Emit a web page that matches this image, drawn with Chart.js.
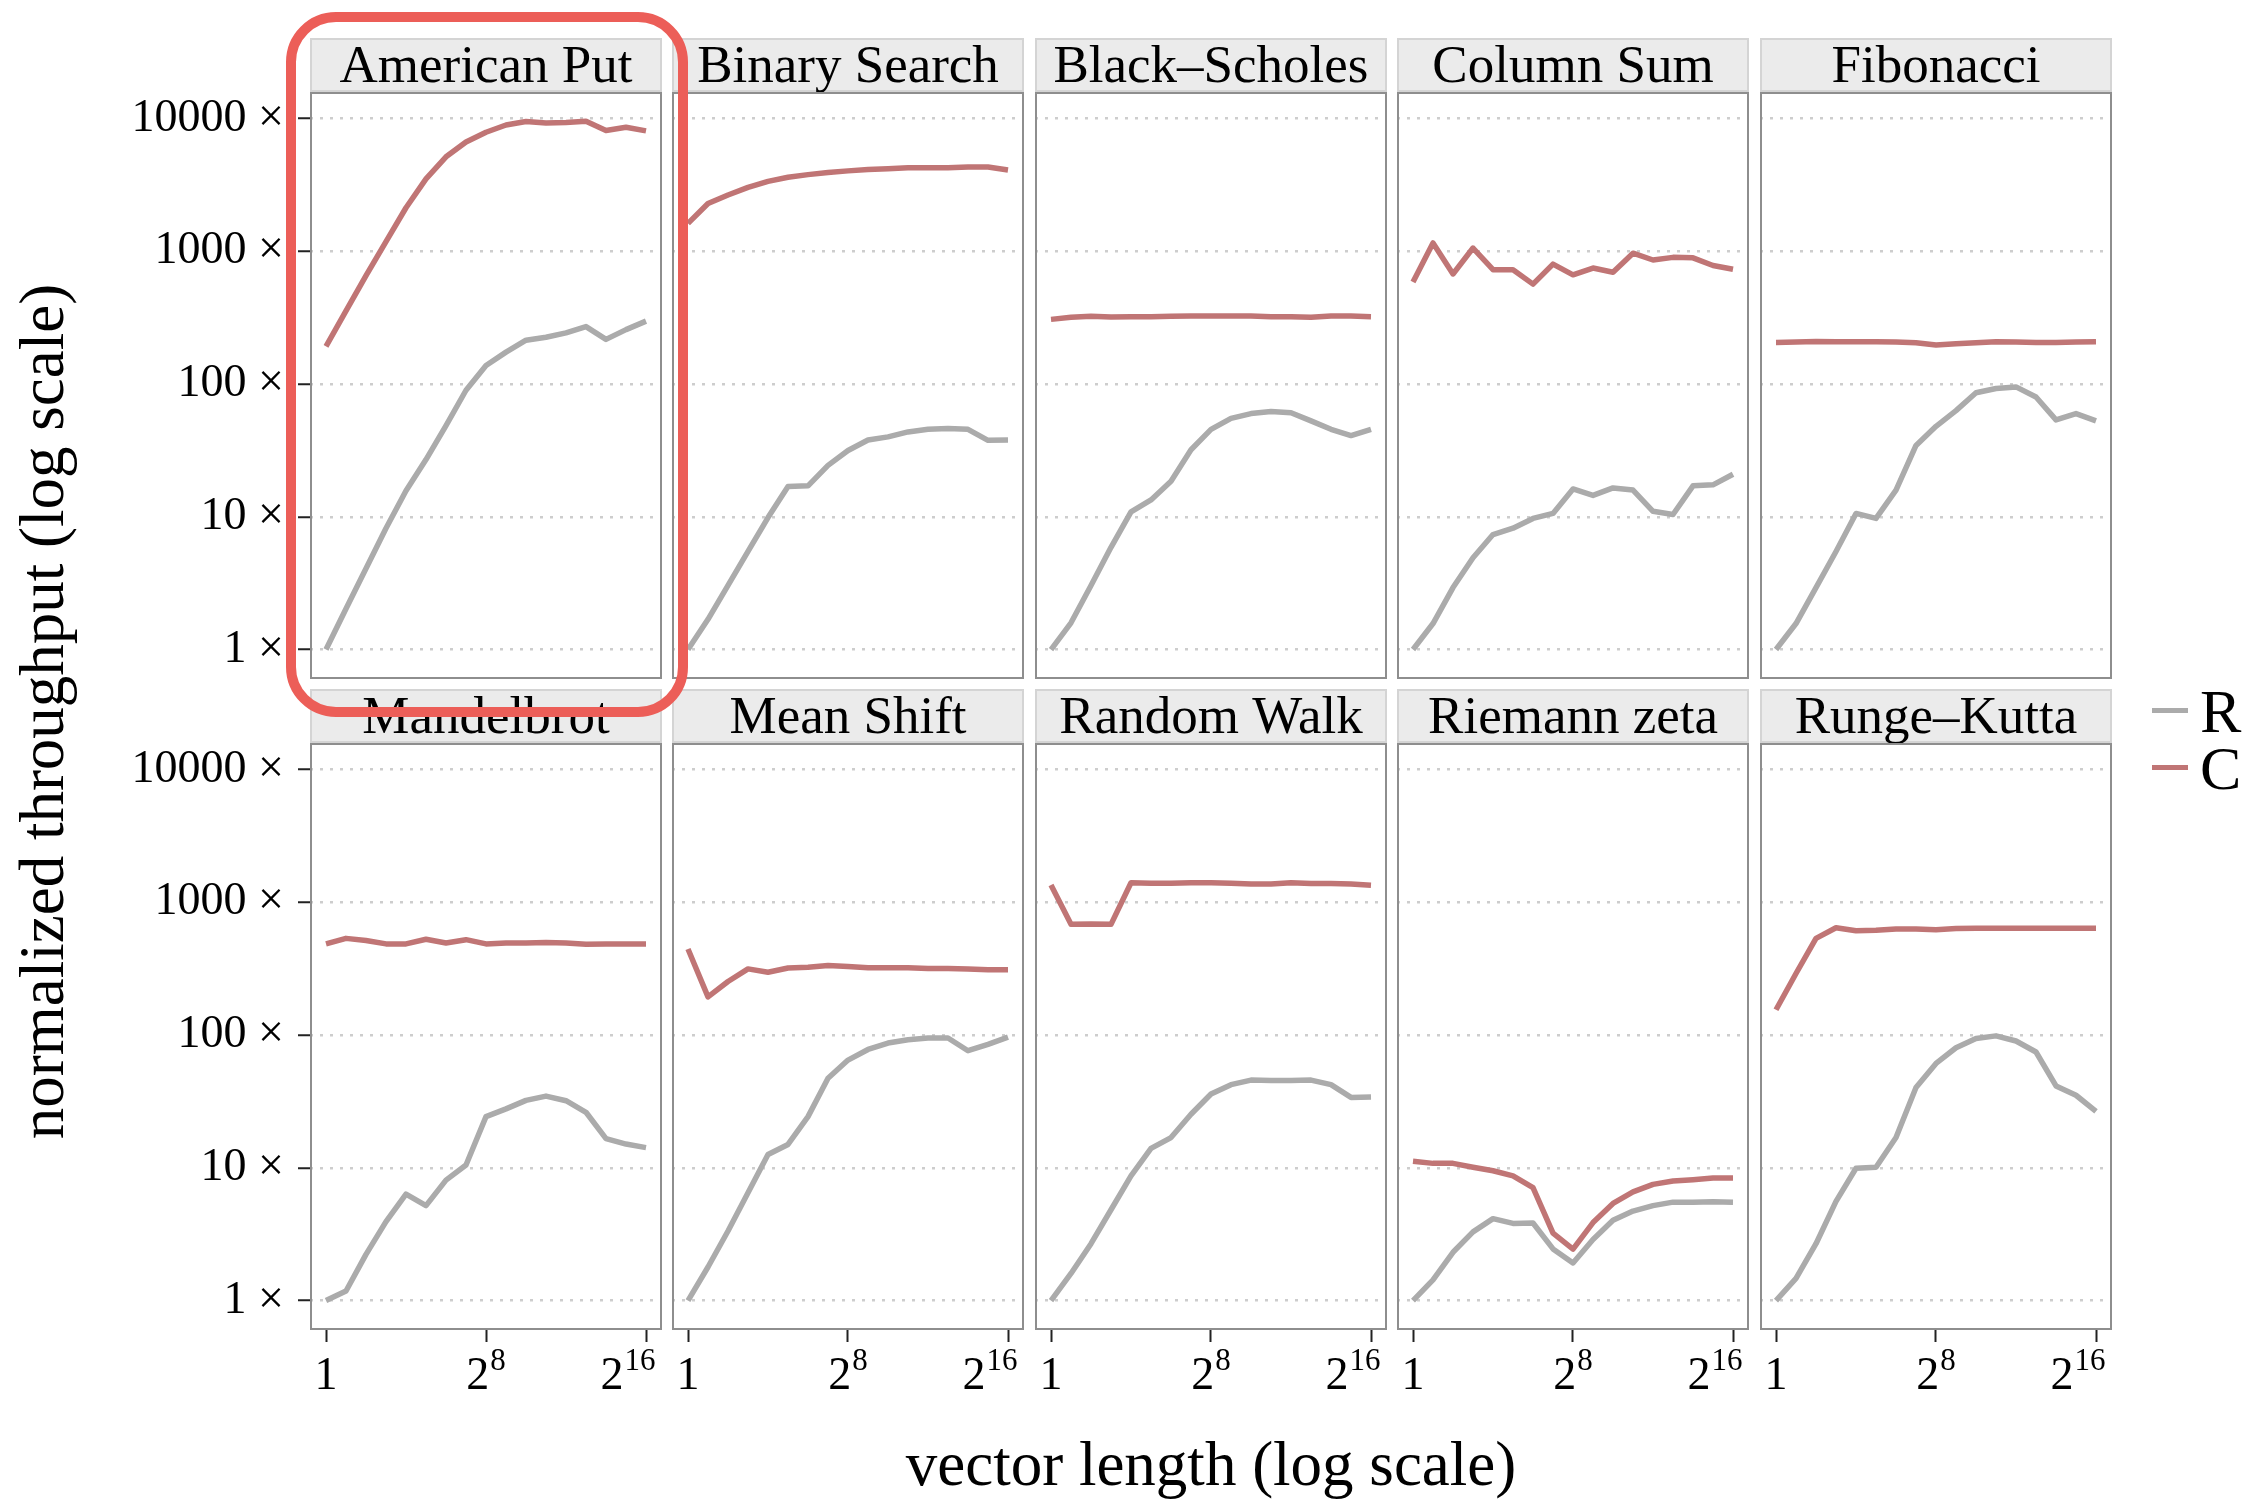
<!DOCTYPE html>
<html>
<head>
<meta charset="utf-8">
<script src="https://cdn.jsdelivr.net/npm/chart.js@4.4.1/dist/chart.umd.min.js"></script>
<style>
  body { margin: 0; background: #fff; }
  #fig { position: relative; width: 2247px; height: 1501px; overflow: hidden; background: #fff;
         font-family: "Liberation Serif", "Times New Roman", serif; color: #000; }
  #fig canvas { position: absolute; }
  .title { position: absolute; white-space: nowrap; text-align: center; font-size: 63px; line-height: 63px; }
  #ytitle { left: -458px; top: 680px; width: 1000px; height: 63px; transform: rotate(-90deg); }
  #xtitle { left: 310px; top: 1433px; width: 1802px; }
  .key-line { position: absolute; left: 2152px; width: 36px; height: 5px; }
  .key-text { position: absolute; left: 2200px; font-size: 62px; line-height: 62px; }
  #highlight { position: absolute; left: 286px; top: 12px; width: 402px; height: 705px; box-sizing: border-box;
               border: 10px solid #EC5E58; border-radius: 50px; z-index: 5; pointer-events: none; }
</style>
</head>
<body>
<div id="fig">
  <div id="ytitle" class="title">normalized throughput (log scale)</div>
  <div id="xtitle" class="title">vector length (log scale)</div>
  <div class="key-line" style="top:708px;background:#ABABAB"></div>
  <div class="key-text" style="top:680px">R</div>
  <div class="key-line" style="top:765px;background:#C07575"></div>
  <div class="key-text" style="top:737px">C</div>
  <div id="highlight"></div>
</div>
<script>
// vector length = 2^exponent
const exponents = [0, 1, 2, 3, 4, 5, 6, 7, 8, 9, 10, 11, 12, 13, 14, 15, 16];

const benchmarks = ['American Put', 'Binary Search', 'Black\u2013Scholes', 'Column Sum', 'Fibonacci',
                    'Mandelbrot', 'Mean Shift', 'Random Walk', 'Riemann zeta', 'Runge\u2013Kutta'];

// normalized throughput, R (gray) and C (red)
const americanPutR  = [1, 2.03, 4.08, 8.2, 15.7, 27, 48.7, 89.8, 138, 174, 214, 225, 243, 271, 217, 257, 298];
const americanPutC  = [192, 356, 656, 1181, 2128, 3510, 5150, 6660, 7890, 8940, 9490, 9270, 9350, 9550, 8130, 8610, 8070];
const binarySearchR = [1, 1.69, 3.04, 5.48, 9.87, 16.9, 17.1, 24.4, 31.6, 37.9, 40.0, 43.6, 45.6, 46.3, 45.6, 37.7, 37.9];
const binarySearchC = [1622, 2290, 2655, 3030, 3360, 3615, 3780, 3920, 4035, 4130, 4190, 4255, 4255, 4255, 4318, 4318, 4100];
const blackScholesR = [1, 1.59, 3.04, 5.89, 10.9, 13.4, 18.5, 32.0, 45.6, 55.2, 59.9, 62.1, 60.8, 52.8, 45.6, 40.9, 45.6];
const blackScholesC = [307, 318, 324, 320, 321, 322, 324, 326, 326, 326, 325, 322, 322, 318, 325, 325, 322];
const columnSumR    = [1, 1.57, 2.93, 4.91, 7.35, 8.21, 9.72, 10.6, 16.2, 14.5, 16.5, 15.9, 11.0, 10.4, 17.1, 17.4, 20.9];
const columnSumC    = [587, 1155, 675, 1058, 727, 727, 566, 800, 665, 748, 695, 968, 860, 900, 893, 782, 732];
const fibonacciR    = [1, 1.57, 2.93, 5.48, 10.6, 9.72, 15.9, 34.5, 48.0, 63.1, 85.9, 92.5, 95.2, 79.8, 53.7, 59.9, 52.8];
const fibonacciC    = [206, 207, 209, 208, 208, 208, 207, 205, 197, 201, 205, 208, 207, 206, 206, 207, 208];
const mandelbrotR   = [1, 1.18, 2.23, 3.93, 6.34, 5.19, 8.08, 10.5, 24.3, 27.8, 32.2, 34.7, 32.0, 26.2, 16.6, 15.1, 14.2];
const mandelbrotC   = [486, 535, 516, 486, 486, 527, 494, 523, 486, 494, 494, 497, 494, 483, 486, 486, 486];
const meanShiftR    = [1, 1.79, 3.34, 6.48, 12.6, 15.0, 24.3, 47.2, 64.8, 77.9, 87.0, 92.2, 95.0, 95.0, 76.2, 85.1, 96.4];
const meanShiftC    = [445, 194, 253, 315, 297, 320, 324, 334, 329, 322, 322, 322, 317, 317, 315, 310, 310];
const randomWalkR   = [1, 1.60, 2.68, 4.83, 8.70, 14.0, 16.9, 25.3, 36.0, 42.3, 45.8, 45.5, 45.5, 45.8, 42.3, 33.9, 34.2];
const randomWalkC   = [1352, 682, 686, 682, 1403, 1393, 1393, 1403, 1403, 1393, 1372, 1372, 1403, 1383, 1383, 1372, 1343];
const riemannZetaR  = [1, 1.43, 2.31, 3.29, 4.14, 3.81, 3.84, 2.45, 1.92, 2.88, 4.02, 4.72, 5.19, 5.51, 5.51, 5.55, 5.51];
const riemannZetaC  = [11.2, 10.8, 10.8, 10.1, 9.5, 8.7, 7.08, 3.22, 2.44, 3.87, 5.39, 6.58, 7.50, 7.96, 8.14, 8.38, 8.38];
const rungeKuttaR   = [1, 1.47, 2.68, 5.59, 9.93, 10.1, 16.9, 40.2, 61.1, 80.2, 94.3, 98.6, 90.2, 74.5, 41.4, 35.2, 26.6];
const rungeKuttaC   = [155, 291, 535, 643, 611, 615, 629, 629, 620, 634, 638, 638, 638, 638, 638, 638, 638];

const seriesR = [americanPutR, binarySearchR, blackScholesR, columnSumR, fibonacciR,
                 mandelbrotR, meanShiftR, randomWalkR, riemannZetaR, rungeKuttaR];
const seriesC = [americanPutC, binarySearchC, blackScholesC, columnSumC, fibonacciC,
                 mandelbrotC, meanShiftC, randomWalkC, riemannZetaC, rungeKuttaC];

// tick labels
const yTickValues = [1, 10, 100, 1000, 10000];
const xTickValues = [1, 256, 65536];
const xTickBase = ['1', '2', '2'];
const xTickExp = ['', '8', '16'];

const FONT = '"Liberation Serif"';
const colLeft = [310, 672, 1035, 1397, 1760];
const rowTop = [92, 743];
const panelW = 352, panelH = 587, stripH = 54;
const rightPad = 30;
const xLabelShift = [0, 0, -18];

// facet strip, panel border and the 2^n labels
const facetPlugin = {
  id: 'facet',
  afterDraw(chart, args, opts) {
    const { ctx, chartArea: a } = chart;
    const w = a.right - a.left;
    ctx.save();
    ctx.fillStyle = '#EBEBEB';
    ctx.fillRect(a.left, a.top - stripH, w, stripH);
    ctx.strokeStyle = '#D4D4D4';
    ctx.lineWidth = 2;
    ctx.strokeRect(a.left + 1, a.top - stripH + 1, w - 2, stripH - 2);
    ctx.fillStyle = '#000';
    ctx.font = '53px ' + FONT;
    ctx.textAlign = 'center';
    ctx.textBaseline = 'alphabetic';
    ctx.fillText(opts.title, a.left + w / 2, a.top - stripH + 44);

    ctx.strokeStyle = '#8E8E8E';
    ctx.lineWidth = 2;
    ctx.strokeRect(a.left + 1, a.top + 1, w - 2, a.bottom - a.top - 2);

    if (opts.xLabels) {
      const sx = chart.scales.x;
      const base = a.bottom + 59;
      ctx.textAlign = 'left';
      xTickValues.forEach((v, i) => {
        const px = sx.getPixelForValue(v);
        ctx.font = '46px ' + FONT;
        const wb = ctx.measureText(xTickBase[i]).width;
        ctx.font = '31px ' + FONT;
        const we = xTickExp[i] ? ctx.measureText(xTickExp[i]).width + 1 : 0;
        const x0 = px - (wb + we) / 2 + xLabelShift[i];
        ctx.font = '46px ' + FONT;
        ctx.fillText(xTickBase[i], x0, base);
        if (xTickExp[i]) {
          ctx.font = '31px ' + FONT;
          ctx.fillText(xTickExp[i], x0 + wb + 1, base - 19);
        }
      });
    }
    ctx.restore();
  }
};

const fig = document.getElementById('fig');
const highlight = document.getElementById('highlight');

benchmarks.forEach((name, k) => {
  const r = Math.floor(k / 5), c = k % 5;
  const leftW = c === 0 ? 230 : 2;
  const bottomH = r === 1 ? 80 : 2;
  const canvas = document.createElement('canvas');
  canvas.width = leftW + panelW + rightPad;
  canvas.height = stripH + 2 + panelH + bottomH;
  canvas.style.left = (colLeft[c] - leftW) + 'px';
  canvas.style.top = (rowTop[r] - stripH - 2) + 'px';
  fig.insertBefore(canvas, highlight);

  new Chart(canvas, {
    type: 'line',
    data: {
      datasets: [
        {
          label: 'C',
          data: exponents.map((e, i) => ({ x: 2 ** e, y: seriesC[k][i] })),
          borderColor: '#C07575'
        },
        {
          label: 'R',
          data: exponents.map((e, i) => ({ x: 2 ** e, y: seriesR[k][i] })),
          borderColor: '#ABABAB'
        }
      ]
    },
    options: {
      responsive: false,
      animation: false,
      devicePixelRatio: 1,
      elements: {
        point: { radius: 0 },
        line: { borderWidth: 5.5, tension: 0, borderJoinStyle: 'round', fill: false }
      },
      layout: {
        autoPadding: false,
        padding: { top: stripH + 2, right: rightPad, bottom: r === 1 ? 0 : 2, left: c === 0 ? 0 : 2 }
      },
      plugins: {
        legend: { display: false },
        tooltip: { enabled: false },
        facet: { title: name, xLabels: r === 1 }
      },
      scales: {
        x: {
          type: 'logarithmic',
          display: r === 1,
          min: 2 ** -0.8,
          max: 2 ** 16.8,
          afterBuildTicks: s => { s.ticks = xTickValues.map(v => ({ value: v })); },
          afterFit: s => { s.height = r === 1 ? 80 : 0; },
          grid: { drawOnChartArea: false, drawTicks: true, tickLength: 12, tickColor: '#222', tickWidth: 2 },
          border: { display: false },
          ticks: { display: false }
        },
        y: {
          type: 'logarithmic',
          min: 10 ** -0.2,
          max: 10 ** 4.2,
          afterBuildTicks: s => { s.ticks = yTickValues.map(v => ({ value: v })); },
          afterFit: s => {
            s.width = c === 0 ? 230 : 0;
            s.paddingTop = 0;
            s.paddingBottom = 0;
          },
          grid: {
            color: '#CDCDCD', lineWidth: 2.5,
            drawTicks: c === 0, tickLength: 12, tickColor: '#222', tickWidth: 2, tickBorderDash: []
          },
          border: { display: false, dash: [3, 7] },
          ticks: {
            display: c === 0,
            padding: 14,
            color: '#000',
            font: { family: 'Liberation Serif', size: 46 },
            callback: v => v + ' \u00d7'
          }
        }
      }
    },
    plugins: [facetPlugin]
  });
});
</script>
</body>
</html>
